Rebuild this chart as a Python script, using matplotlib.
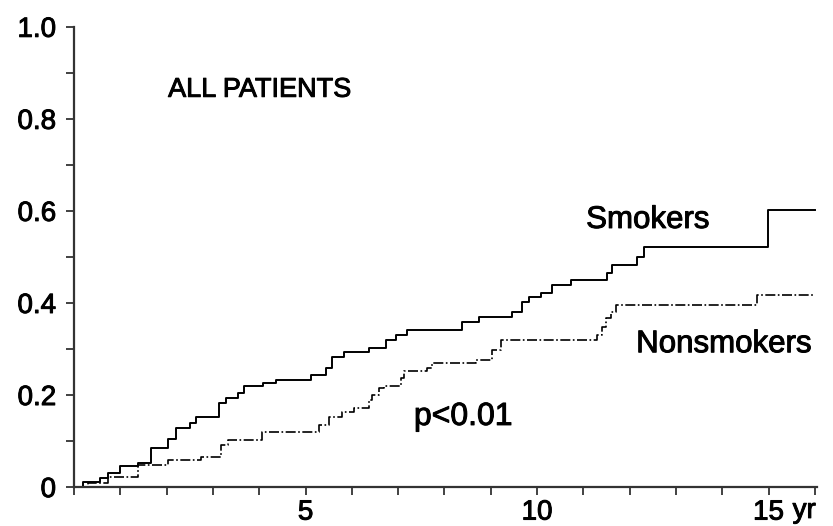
import matplotlib
matplotlib.use("Agg")
import matplotlib.pyplot as plt
import matplotlib.patheffects as pe
from matplotlib.ticker import MultipleLocator, FixedLocator, FixedFormatter

plt.rcParams['font.family'] = ['Liberation Sans', 'DejaVu Sans']

# cumulative incidence, step curves (time in years, value after each step)
smokers_t = [0, 0.2, 0.56, 0.74, 1.0, 1.39, 1.65, 2.03, 2.21, 2.51, 2.64, 3.12, 3.27,
             3.55, 3.66, 4.09, 4.35, 5.11, 5.43, 5.56, 5.82, 6.36, 6.73, 6.95, 7.19,
             8.38, 8.74, 9.46, 9.68, 9.83, 10.09, 10.32, 10.74, 11.52, 11.62, 12.16,
             12.32, 14.98, 16.0]
smokers_y = [0, 0.012, 0.02, 0.03, 0.046, 0.052, 0.085, 0.104, 0.128, 0.139, 0.152,
             0.183, 0.193, 0.204, 0.22, 0.226, 0.233, 0.243, 0.259, 0.283, 0.293,
             0.302, 0.32, 0.33, 0.341, 0.359, 0.37, 0.38, 0.402, 0.413, 0.422, 0.439,
             0.45, 0.465, 0.483, 0.5, 0.522, 0.602, 0.602]

nonsmokers_t = [0, 0.3, 0.74, 1.39, 2.03, 2.75, 3.18, 3.33, 4.05, 5.28, 5.5, 5.78,
                6.04, 6.36, 6.43, 6.58, 6.69, 7.06, 7.12, 7.62, 7.73, 8.68, 9.03,
                9.22, 11.3, 11.41, 11.49, 11.6, 11.71, 14.74, 16.0]
nonsmokers_y = [0, 0.008, 0.022, 0.048, 0.059, 0.065, 0.091, 0.102, 0.12, 0.135,
                0.152, 0.163, 0.172, 0.189, 0.2, 0.215, 0.22, 0.237, 0.252, 0.259,
                0.27, 0.276, 0.298, 0.32, 0.33, 0.348, 0.367, 0.38, 0.396, 0.417,
                0.417]

x_major = [5, 10, 15]
x_labels = ['5', '10', '15']
y_major = [0, 0.2, 0.4, 0.6, 0.8, 1.0]
y_labels = ['0', '0.2', '0.4', '0.6', '0.8', '1.0']

# slightly heavier glyphs, like a printed figure
heavy = [pe.withStroke(linewidth=0.7, foreground='black')]

fig = plt.figure(figsize=(8.33, 5.26), dpi=100)
ax = fig.add_axes([0.089, 0.074, 0.892, 0.875])

ax.step(smokers_t, smokers_y, where='post', color='black', lw=1.4)
ax.step(nonsmokers_t, nonsmokers_y, where='post', color='black', lw=1.2,
        linestyle=(0, (6, 1.5, 1, 1.5)))

ax.set_xlim(0, 16.05)
ax.set_ylim(0, 1.0)

for s in ['top', 'right']:
    ax.spines[s].set_visible(False)
for s in ['left', 'bottom']:
    ax.spines[s].set_color('#333333')
    ax.spines[s].set_linewidth(1.6)

ax.xaxis.set_major_locator(FixedLocator(x_major))
ax.xaxis.set_major_formatter(FixedFormatter(x_labels))
ax.xaxis.set_minor_locator(MultipleLocator(1))
ax.yaxis.set_major_locator(FixedLocator(y_major))
ax.yaxis.set_major_formatter(FixedFormatter(y_labels))
ax.yaxis.set_minor_locator(MultipleLocator(0.1))

ax.tick_params(axis='both', which='both', direction='out', length=6, width=1.3,
               color='#333333')
ax.tick_params(axis='x', which='major', labelsize=20, pad=3)
ax.tick_params(axis='y', which='major', labelsize=20, pad=7)
for lbl in ax.get_xticklabels() + ax.get_yticklabels():
    lbl.set_path_effects(heavy)

# unit after the last x tick label
ax.text(15.52, -0.067, 'yr', fontsize=20, ha='left', va='baseline',
        path_effects=heavy, clip_on=False)

ax.text(2.03, 0.848, 'ALL PATIENTS', fontsize=19.5, ha='left', va='baseline',
        path_effects=heavy)
ax.text(11.06, 0.563, 'Smokers', fontsize=22.5, ha='left', va='baseline',
        path_effects=heavy)
ax.text(12.14, 0.293, 'Nonsmokers', fontsize=22.5, ha='left', va='baseline',
        path_effects=heavy)
ax.text(7.34, 0.135, 'p<0.01', fontsize=23, ha='left', va='baseline',
        path_effects=heavy)

fig.savefig('out.png', dpi=100)
